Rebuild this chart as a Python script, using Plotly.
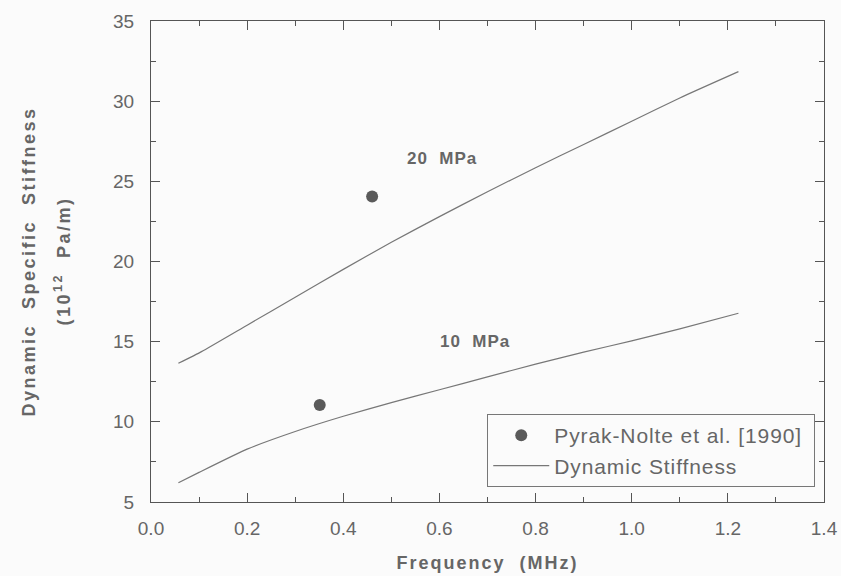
import plotly.graph_objects as go

# ---- data ----
freq_20 = [0.057, 0.105, 0.2, 0.3, 0.4, 0.5, 0.6, 0.7, 0.8, 0.9, 1.0, 1.1, 1.222]
stiff_20 = [13.65, 14.38, 16.03, 17.77, 19.51, 21.2, 22.8, 24.35, 25.85, 27.3, 28.75, 30.2, 31.84]
freq_10 = [0.057, 0.1, 0.2, 0.3, 0.4, 0.5, 0.6, 0.7, 0.8, 0.9, 1.0, 1.1, 1.222]
stiff_10 = [6.2, 6.85, 8.3, 9.4, 10.35, 11.2, 12.0, 12.8, 13.6, 14.35, 15.05, 15.8, 16.77]
obs_freq = [0.46, 0.351]
obs_stiff = [24.05, 11.05]
x_ticks = [0.0, 0.2, 0.4, 0.6, 0.8, 1.0, 1.2, 1.4]
y_ticks = [5, 10, 15, 20, 25, 30, 35]
labels = ["20 MPa", "10 MPa"]
label_x = [0.606, 0.674]
label_y = [26.4, 15.0]

TXT = "#666666"
AX = "#555555"
FONT = "Liberation Sans, Arial, Helvetica, sans-serif"
BG = "#fbfbfb"


def spaced(t, ls):
    return '<b><span style="letter-spacing:%spx">%s</span></b>' % (ls, t.replace(" ", "\u00a0\u00a0"))


fig = go.Figure()
fig.add_trace(go.Scatter(
    x=obs_freq, y=obs_stiff, mode="markers",
    name='<span style="letter-spacing:0.9px">Pyrak-Nolte et al. [1990]\u00a0</span>',
    marker=dict(color="#5a5a5a", size=12, line=dict(width=0)),
))
fig.add_trace(go.Scatter(
    x=freq_20, y=stiff_20, mode="lines",
    name='<span style="letter-spacing:0.9px">Dynamic Stiffness</span>',
    line=dict(color="#777777", width=1.2, shape="spline", smoothing=0.5),
    legendgroup="dyn",
))
fig.add_trace(go.Scatter(
    x=freq_10, y=stiff_10, mode="lines", name="Dynamic Stiffness",
    line=dict(color="#777777", width=1.2, shape="spline", smoothing=0.5),
    legendgroup="dyn", showlegend=False,
))

for t, lx, ly in zip(labels, label_x, label_y):
    fig.add_annotation(
        x=lx, y=ly, xref="x", yref="y", showarrow=False,
        text=spaced(t, 1),
        font=dict(family=FONT, size=17, color=TXT),
    )

# y-axis title (two lines)
fig.add_annotation(
    x=0, y=0.5, xref="paper", yref="paper", xanchor="center", yanchor="middle",
    xshift=-123, showarrow=False, textangle=-90,
    text=spaced("Dynamic Specific Stiffness", 2.5),
    font=dict(family=FONT, size=18, color=TXT),
)
fig.add_annotation(
    x=0, y=0.5, xref="paper", yref="paper", xanchor="center", yanchor="middle",
    xshift=-88, showarrow=False, textangle=-90,
    text=spaced("(10<sup>12</sup> Pa/m)", 2.5),
    font=dict(family=FONT, size=18, color=TXT),
)

axis_common = dict(
    showline=True, linecolor=AX, linewidth=1, mirror="allticks",
    ticks="inside", ticklen=9, tickwidth=1, tickcolor=AX,
    showgrid=False, zeroline=False, automargin=False,
    tickfont=dict(family=FONT, size=19, color=TXT),
)

fig.update_xaxes(
    range=[0, 1.4], tickvals=x_ticks, ticktext=[f"{v:.1f}" for v in x_ticks],
    minor=dict(dtick=0.1, ticks="inside", ticklen=5, tickcolor=AX, showgrid=False),
    ticklabelstandoff=9,
    title=dict(text=spaced("Frequency (MHz)", 2),
               font=dict(family=FONT, size=18, color=TXT), standoff=18),
    **axis_common,
)
fig.update_yaxes(
    range=[5, 35], tickvals=y_ticks,
    minor=dict(dtick=2.5, ticks="inside", ticklen=5, tickcolor=AX, showgrid=False),
    ticklabelstandoff=12,
    **axis_common,
)

fig.update_layout(
    width=841, height=576,
    margin=dict(l=151, r=17, t=21, b=74),
    paper_bgcolor=BG, plot_bgcolor=BG,
    showlegend=True,
    legend=dict(
        x=0.987, y=0.031, xanchor="right", yanchor="bottom",
        bgcolor=BG, bordercolor="#777777", borderwidth=1,
        font=dict(family=FONT, size=21, color=TXT),
        itemwidth=56, tracegroupgap=0,
    ),
)

fig.write_html("out.html")
